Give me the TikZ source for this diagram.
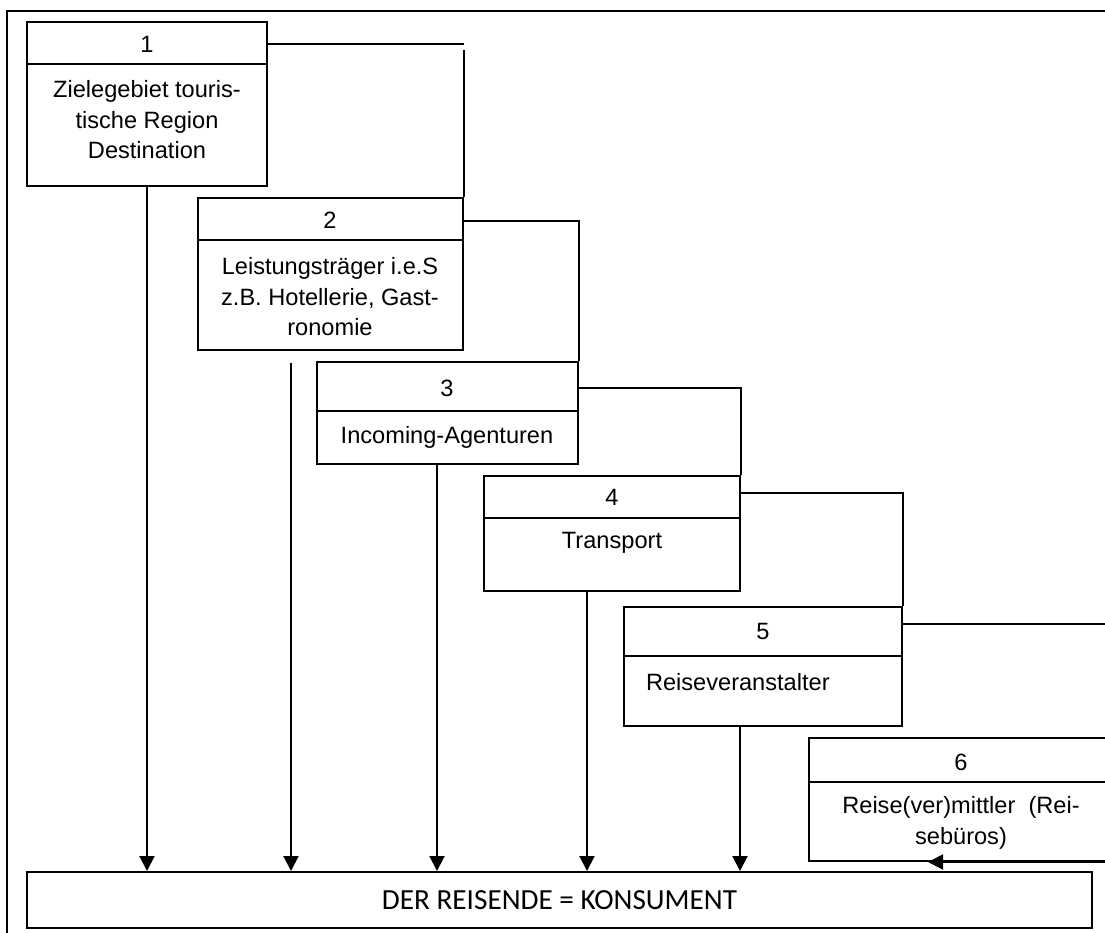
\documentclass[tikz,border=0pt]{standalone}
\usepackage{fontspec}
\setmainfont{Liberation Sans}
\newfontfamily\calib{Carlito}
\usetikzlibrary{arrows.meta,calc}
\begin{document}
\begin{tikzpicture}[x=1pt,y=-1pt,
  line width=2pt,
  box/.style={draw,rectangle,inner sep=0pt},
  lbl/.style={inner sep=0pt,font=\fontsize{23.6}{30.5}\selectfont,align=center},
  arr/.style={-{Triangle[length=15pt,width=15pt]}}]
\useasboundingbox (0,0) rectangle (1105,932);
\clip (0,0) rectangle (1105,932);
% frame
\draw[line width=1.6pt] (7,950) -- (7,11) -- (1120,11);
% boxes
\node[box,minimum width=240,minimum height=164] (b1) at (147,104) {};
\node[box,minimum width=265,minimum height=152] (b2) at (330.5,274) {};
\node[box,minimum width=261,minimum height=102] (b3) at (447.5,413) {};
\node[box,minimum width=256,minimum height=115] (b4) at (612,533.5) {};
\node[box,minimum width=278,minimum height=119] (b5) at (763,666.5) {};
\node[box,minimum width=304,minimum height=123] (b6) at (961,799.5) {};
\node[box,minimum width=1065,minimum height=56] (kons) at (559.5,900)
  {\calib\fontsize{29.2}{30}\selectfont DER REISENDE = KONSUMENT};
% dividers
\draw (b1.west |- 0,64) -- (b1.east |- 0,64);
\draw (b2.west |- 0,240) -- (b2.east |- 0,240);
\draw (b3.west |- 0,411) -- (b3.east |- 0,411);
\draw (b4.west |- 0,518) -- (b4.east |- 0,518);
\draw (b5.west |- 0,656) -- (b5.east |- 0,656);
\draw (b6.west |- 0,782) -- (b6.east |- 0,782);
% headers
\node[lbl] (h1) at (147,44) {1};
\node[lbl] (h2) at (330,220) {2};
\node[lbl] (h3) at (447,388) {3};
\node[lbl] (h4) at (612,497) {4};
\node[lbl] (h5) at (763,631) {5};
\node[lbl] (h6) at (961,762) {6};
% bodies
\node[lbl] (t1) at (147,120) {Zielegebiet touris-\\tische Region\\Destination};
\node[lbl] (t2) at (330,297) {Leistungsträger i.e.S\\z.B. Hotellerie, Gast-\\ronomie};
\node[lbl] (t3) at (447,437) {Incoming-Agenturen};
\node[lbl] (t4) at (612,543) {Transport};
\node[lbl,anchor=west] (t5) at (645,682) {Reiseveranstalter};
\node[lbl] (t6) at (961,823) {Reise(ver)mittler\ \ (Rei-\\sebüros)};
% connectors between boxes
\draw (h1 -| b1.east) -- (h1 -| b2.east);
\draw ([yshift=-6pt]h1 -| b2.east) -- (b2.north east);
\draw ([yshift=-1pt]h2 -| b2.east) -- ([yshift=-1pt]h2 -| b3.east) -- (b3.north east);
\draw (h3 -| b3.east) -- (h3 -| b4.east) -- (b4.north east);
\draw ([yshift=4pt]h4 -| b4.east) -- ([yshift=4pt]h4 -| b5.east) -- (b5.north east);
\coordinate (c5) at (1120,624);
\draw[arr] (c5 -| b5.east) -- (c5) -- (c5 |- b6.south) -- ([xshift=-33pt]b6.south);
% arrows to the traveller
\draw[arr] (b1.south) -- (b1.south |- kons.north);
\draw[arr] ([xshift=-39.5pt,yshift=-12pt]b2.south) -- ([xshift=-39.5pt]b2.south |- kons.north);
\draw[arr] ([xshift=-10.5pt]b3.south) -- ([xshift=-10.5pt]b3.south |- kons.north);
\draw[arr] ([xshift=-25pt]b4.south) -- ([xshift=-25pt]b4.south |- kons.north);
\draw[arr] ([xshift=-23pt]b5.south) -- ([xshift=-23pt]b5.south |- kons.north);
\end{tikzpicture}
\end{document}
